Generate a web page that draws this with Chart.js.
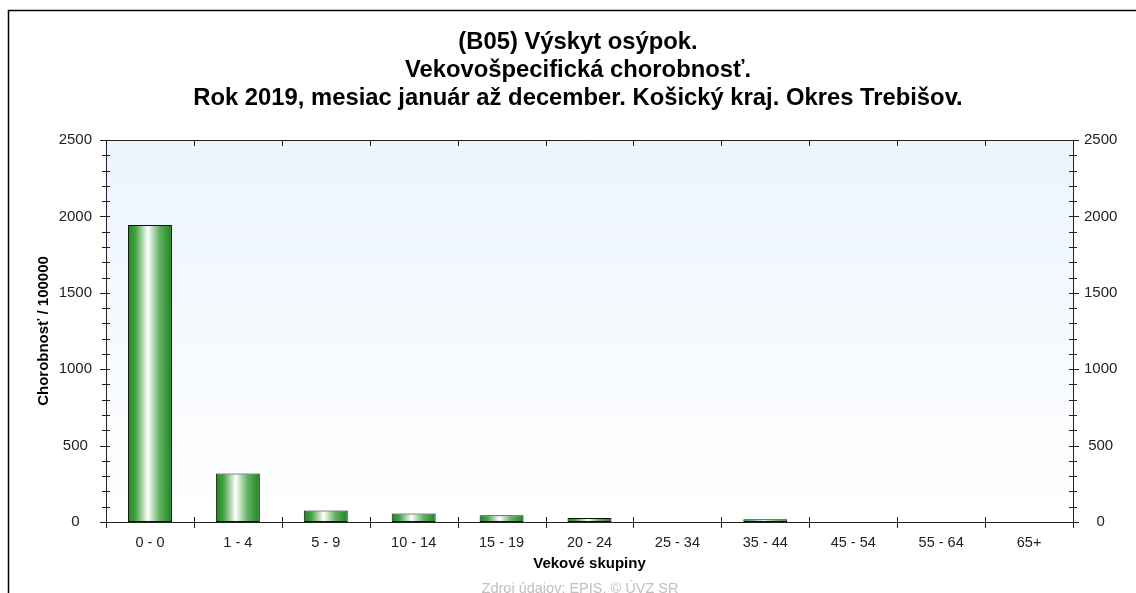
<!DOCTYPE html>
<html>
<head>
<meta charset="utf-8">
<title>Výskyt osýpok</title>
<script src="https://cdn.jsdelivr.net/npm/chart.js@4.4.1/dist/chart.umd.min.js"></script>
<style>
  html, body { margin: 0; padding: 0; background: #fff; }
  #wrap { width: 1136px; height: 593px; position: relative; }
</style>
</head>
<body>
<div id="wrap"><canvas id="chart"></canvas></div>
<script>
const ageGroups = ['0 - 0', '1 - 4', '5 - 9', '10 - 14', '15 - 19', '20 - 24', '25 - 34', '35 - 44', '45 - 54', '55 - 64', '65+'];
const morbidity = [1943, 317, 75, 55, 44, 26, 0, 18, 0, 0, 0];
const yTickValues = [0, 500, 1000, 1500, 2000, 2500];
const yMinorStep = 100;

const titleLines = [
  '(B05) Výskyt osýpok.',
  'Vekovošpecifická chorobnosť.',
  'Rok 2019, mesiac január až december. Košický kraj. Okres Trebišov.'
];
const yTitle = 'Chorobnosť / 100000';
const xTitle = 'Vekové skupiny';
const sourceText = 'Zdroj údajov: EPIS, © ÚVZ SR';

const FONT = "'Liberation Sans', Arial, sans-serif";

function barFill(context) {
  const chart = context.chart;
  const area = chart.chartArea;
  if (!area) return '#2a8f2a';
  const xs = chart.scales.x;
  const cx = xs.getPixelForValue(context.dataIndex);
  const w = area.width / ageGroups.length * 0.5;
  const g = chart.ctx.createLinearGradient(cx - w / 2, 0, cx + w / 2, 0);
  g.addColorStop(0, '#1c881c');
  g.addColorStop(0.18, '#45a445');
  g.addColorStop(0.45, '#ffffff');
  g.addColorStop(0.72, '#64b064');
  g.addColorStop(1, '#1a861a');
  return g;
}

// background of the plot + frame of the picture
const backdrop = {
  id: 'backdrop',
  beforeDraw(chart) {
    const { ctx, chartArea: a } = chart;
    ctx.save();
    ctx.fillStyle = '#fff';
    ctx.fillRect(0, 0, chart.width, chart.height);
    const g = ctx.createLinearGradient(0, a.top, 0, a.bottom);
    g.addColorStop(0, '#ecf4fe');
    g.addColorStop(1, '#ffffff');
    ctx.fillStyle = g;
    ctx.fillRect(a.left, a.top, a.right - a.left, a.bottom - a.top);
    // outer frame
    ctx.strokeStyle = '#000';
    ctx.lineWidth = 1.5;
    ctx.beginPath();
    ctx.moveTo(8.5, chart.height + 2);
    ctx.lineTo(8.5, 10.5);
    ctx.lineTo(chart.width + 2, 10.5);
    ctx.stroke();
    ctx.restore();
  }
};

// tick marks crossing the axes, top border, source text
const axisMarks = {
  id: 'axisMarks',
  afterDraw(chart) {
    const { ctx, chartArea: a } = chart;
    const yl = chart.scales.y;
    const xs = chart.scales.x;
    ctx.save();
    ctx.strokeStyle = '#222';
    ctx.lineWidth = 1;
    ctx.beginPath();
    // top border
    ctx.moveTo(a.left, Math.round(a.top) + 0.5);
    ctx.lineTo(a.right, Math.round(a.top) + 0.5);
    for (let v = 0; v <= yl.max; v += yMinorStep) {
      const y = Math.round(yl.getPixelForValue(v)) + 0.5;
      const major = v % 500 === 0;
      ctx.moveTo(a.left - (major ? 6 : 4), y);
      ctx.lineTo(a.left + 4, y);
      ctx.moveTo(a.right - 4, y);
      ctx.lineTo(a.right + (major ? 6 : 4), y);
    }
    for (let i = 0; i <= ageGroups.length; i++) {
      const x = Math.round(xs.getPixelForValue(i - 0.5)) + 0.5;
      ctx.moveTo(x, a.bottom - 5);
      ctx.lineTo(x, a.bottom + 6);
      ctx.moveTo(x, a.top);
      ctx.lineTo(x, a.top + 6);
    }
    ctx.stroke();

    ctx.fillStyle = '#c0c0c0';
    ctx.font = '14.5px ' + FONT;
    ctx.textAlign = 'center';
    ctx.textBaseline = 'top';
    ctx.fillText(sourceText, 580, 582);
    ctx.restore();
  }
};

const plainNumber = v => String(v);

const ctx = document.getElementById('chart').getContext('2d');
new Chart(ctx, {
  type: 'bar',
  data: {
    labels: ageGroups,
    datasets: [{
      data: morbidity,
      backgroundColor: barFill,
      borderColor: '#111',
      borderWidth: 1,
      borderSkipped: false,
      barPercentage: 0.5,
      categoryPercentage: 1
    }]
  },
  options: {
    responsive: true,
    maintainAspectRatio: false,
    animation: false,
    layout: { padding: { left: 20, right: 0, top: 0, bottom: 0 } },
    plugins: {
      legend: { display: false },
      tooltip: { enabled: false },
      title: {
        display: true,
        text: titleLines,
        color: '#000',
        font: { family: FONT, size: 23.8, weight: 'bold', lineHeight: 28 / 23.8 },
        padding: { top: 28, bottom: 28 }
      }
    },
    scales: {
      x: {
        grid: { display: false, drawTicks: false },
        border: { display: true, color: '#222', width: 1 },
        ticks: { color: '#222', font: { family: FONT, size: 14.5 }, padding: 12, maxRotation: 0, autoSkip: false },
        title: {
          display: true,
          text: xTitle,
          color: '#000',
          font: { family: FONT, size: 15, weight: 'bold' },
          padding: { top: 0, bottom: 20 }
        },
        afterFit(scale) { scale.height = 71; }
      },
      y: {
        position: 'left',
        min: 0,
        max: 2500,
        afterBuildTicks(scale) { scale.ticks = yTickValues.map(v => ({ value: v })); },
        grid: { display: false, drawTicks: false },
        border: { display: true, color: '#222', width: 1 },
        ticks: { color: '#222', font: { family: FONT, size: 15 }, padding: 14, crossAlign: 'center', callback: plainNumber },
        title: {
          display: true,
          text: yTitle,
          color: '#000',
          font: { family: FONT, size: 15, weight: 'bold' },
          padding: { top: 15, bottom: 0 }
        },
        afterFit(scale) { scale.width = 86; }
      },
      y2: {
        position: 'right',
        min: 0,
        max: 2500,
        afterBuildTicks(scale) { scale.ticks = yTickValues.map(v => ({ value: v })); },
        grid: { display: false, drawTicks: false },
        border: { display: true, color: '#222', width: 1 },
        ticks: { color: '#222', font: { family: FONT, size: 15 }, padding: 11, crossAlign: 'center', callback: plainNumber },
        afterFit(scale) { scale.width = 63; }
      }
    }
  },
  plugins: [backdrop, axisMarks]
});
</script>
</body>
</html>
